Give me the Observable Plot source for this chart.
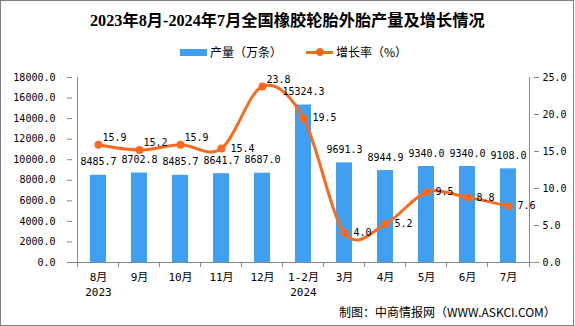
<!DOCTYPE html>
<html><head><meta charset="utf-8">
<script src="https://cdn.jsdelivr.net/npm/d3@7"></script>
<script src="https://cdn.jsdelivr.net/npm/@observablehq/plot@0.6"></script>
<style>
body{margin:0;background:#fff}
#wrap{position:relative;width:575px;height:326px;overflow:hidden;background:#fff;font-family:'Noto Sans CJK SC',sans-serif;color:#000}
#chart{position:absolute;left:0;top:0}
#title{position:absolute;left:90px;top:10px;font:bold 16px/22px 'Liberation Serif','Noto Sans CJK SC',serif;white-space:nowrap}
.lg{position:absolute;font-size:12px;line-height:16px;white-space:nowrap}
#sw1{position:absolute;left:180px;top:49px;width:27px;height:7px;background:#3f9ff0}
#sw2{position:absolute;left:306px;top:50.5px;width:27px;height:3px;background:#f96a1e}
#sw2d{position:absolute;left:316px;top:48px;width:8px;height:8px;border-radius:50%;background:#f96a1e}
#caption{position:absolute;left:339px;top:304px;font-size:12.5px;line-height:16px;white-space:nowrap}
#border{position:absolute;left:0;top:0;width:574px;height:326px;box-sizing:border-box;border:1px solid #808080;pointer-events:none}
</style></head><body>
<div id="wrap">
  <div id="chart"></div>
  <div id="title">2023年8月-2024年7月全国橡胶轮胎外胎产量及增长情况</div>
  <div id="sw1"></div><div class="lg" style="left:210px;top:44px">产量（万条）</div>
  <div id="sw2"></div><div id="sw2d"></div><div class="lg" style="left:336px;top:44px">增长率（%）</div>
  <div id="caption">制图：中商情报网（WWW.ASKCI.COM）</div>
  <div id="border"></div>
</div>
<script>
const months = ["8月","9月","10月","11月","12月","1-2月","3月","4月","5月","6月","7月"];
const years = ["2023","","","","","2024","","","","",""];
const output = [8485.7,8702.8,8485.7,8641.7,8687.0,15324.3,9691.3,8944.9,9340.0,9340.0,9108.0];
const growth = [15.9,15.2,15.9,15.4,23.8,19.5,4.0,5.2,9.5,8.8,7.6];
const leftTicks = [0,2000,4000,6000,8000,10000,12000,14000,16000,18000];
const rightTicks = [0,5,10,15,20,25];
const leftMax = 18000, rightMax = 25;

const W = 575, H = 326, mL = 72, mR = 42, mT = 77, mB = 64;
const step = (W - mL - mR) / months.length;
const K = leftMax / rightMax;
const gray = "#868686", blue = "#3f9ff0", orange = "#f96a1e";
const data = months.map((m, i) => ({m, i, v: output[i], r: growth[i]}));
const aboveIdx = new Set([0, 1, 2, 4]);
const mono = "'DejaVu Sans Mono','Noto Sans CJK SC',monospace";

const chart = Plot.plot({
  width: W, height: H,
  marginLeft: mL, marginRight: mR, marginTop: mT, marginBottom: mB,
  style: {fontFamily: mono, fontSize: "10px", color: "#000", background: "transparent", overflow: "visible"},
  x: {domain: months, paddingInner: 0.62, paddingOuter: 0.31, label: null},
  y: {domain: [0, leftMax], label: null},
  marks: [
    Plot.barY(data, {x: "m", y: "v", fill: blue}),
    Plot.ruleY([0], {stroke: gray}),
    Plot.ruleX([months[0]], {x: d => d, dx: -step / 2, stroke: gray}),
    Plot.ruleX([months[months.length - 1]], {x: d => d, dx: step / 2, stroke: gray}),
    Plot.axisY({ticks: leftTicks, tickSize: 5, tickPadding: 12, stroke: gray, fill: "#000", tickFormat: d => d.toFixed(1), label: null}),
    Plot.axisY({anchor: "right", ticks: rightTicks.map(t => t * K), tickSize: 5, tickPadding: 4, stroke: gray, fill: "#000", tickFormat: d => (d / K).toFixed(1), label: null}),
    Plot.axisX({tickSize: 5, text: null, dx: -step / 2, stroke: gray, label: null}),
    Plot.axisX([months[months.length - 1]], {tickSize: 5, text: null, dx: step / 2, stroke: gray, label: null}),
    Plot.axisX({tickSize: 0, tickPadding: 8, fontSize: 11, lineHeight: 1.36, fill: "#000", label: null,
      tickFormat: d => { const i = months.indexOf(d); return years[i] ? d + "\n" + years[i] : d; }}),
    Plot.line(data, {x: "m", y: d => d.r * K, curve: "cardinal", stroke: orange, strokeWidth: 3}),
    Plot.dot(data, {x: "m", y: d => d.r * K, r: 4, fill: orange}),
    Plot.text(data, {x: "m", y: "v", text: d => d.v.toFixed(1), dy: -13, fill: "#000"}),
    Plot.text(data.filter(d => aboveIdx.has(d.i)), {x: "m", y: d => d.r * K, text: d => d.r.toFixed(1), textAnchor: "start", dx: 4, dy: -7, fill: "#000"}),
    Plot.text(data.filter(d => !aboveIdx.has(d.i)), {x: "m", y: d => d.r * K, text: d => d.r.toFixed(1), textAnchor: "start", dx: 9, dy: 0, fill: "#000"})
  ]
});
document.getElementById("chart").appendChild(chart);

// fit title and caption to the widths measured on the reference
function fit(id, targetWidth, baseSize) {
  const el = document.getElementById(id);
  const w = el.getBoundingClientRect().width;
  if (w > 0) el.style.fontSize = (baseSize * targetWidth / w).toFixed(2) + "px";
}
fit("title", 395, 16);
fit("caption", 217, 12.5);
</script>
</body></html>
